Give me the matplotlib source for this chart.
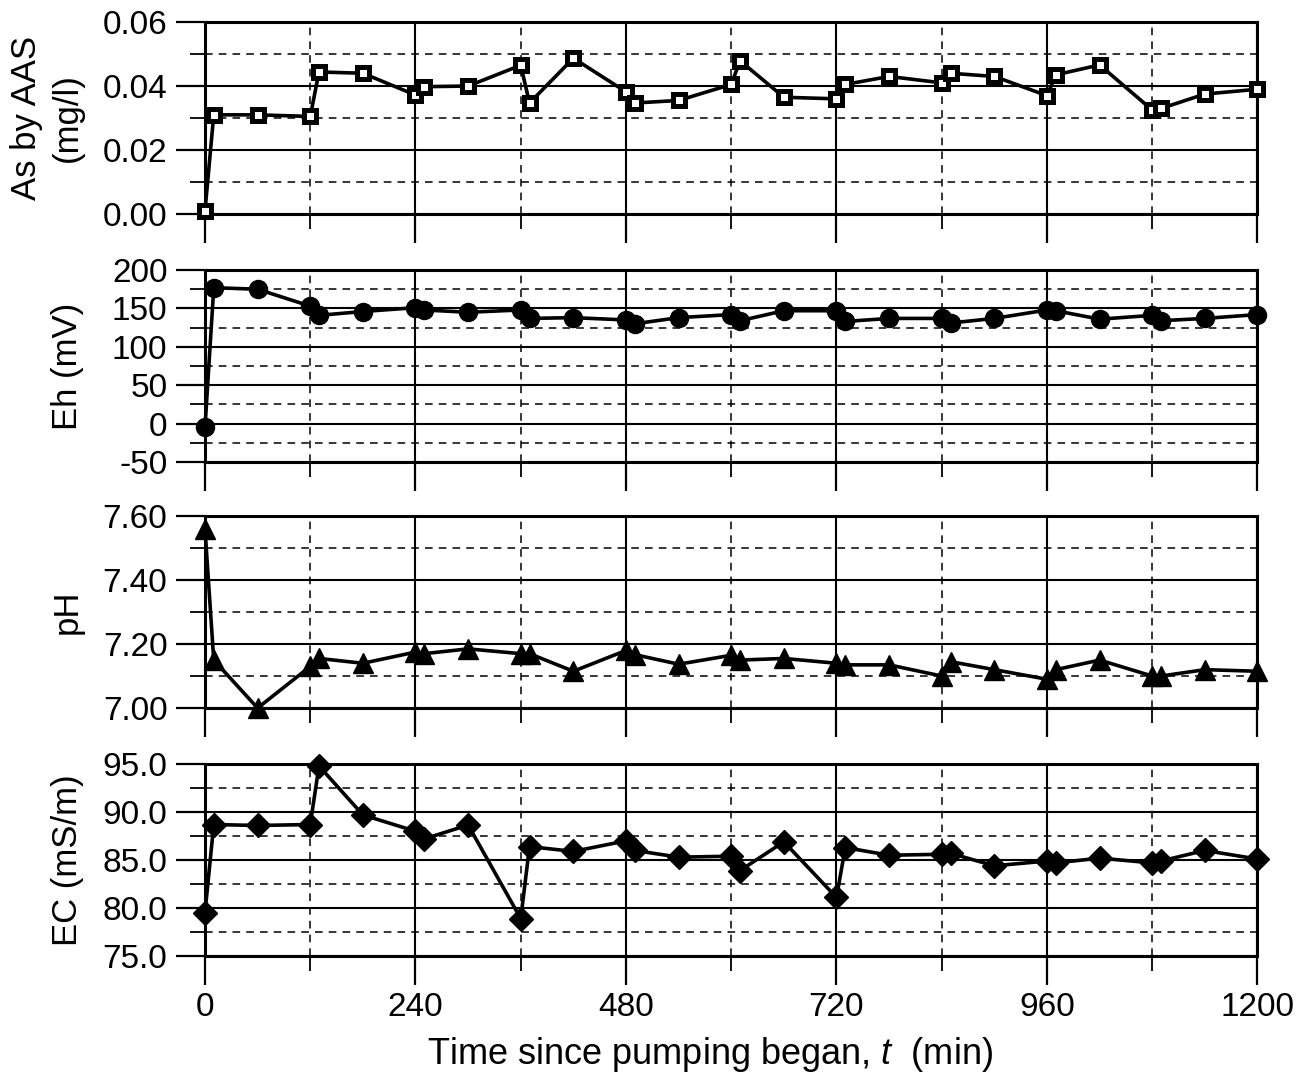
import matplotlib
matplotlib.use("Agg")
import matplotlib.pyplot as plt
import numpy as np
from matplotlib.ticker import MultipleLocator, FormatStrFormatter

plt.rcParams['font.family'] = ['Liberation Sans', 'DejaVu Sans']
plt.rcParams['mathtext.fontset'] = 'custom'
plt.rcParams['mathtext.it'] = 'Liberation Sans:italic'
plt.rcParams['mathtext.rm'] = 'Liberation Sans'

# sampling times (min)
t = [0, 10, 60, 120, 130, 180, 240, 250, 300, 360, 370, 420, 480, 490, 540,
     600, 610, 660, 720, 730, 780, 840, 850, 900, 960, 970, 1020, 1080, 1090, 1140, 1200]

as_aas = [0.001, 0.031, 0.031, 0.0305, 0.0444, 0.044, 0.0372, 0.0398, 0.040, 0.0465,
          0.0347, 0.0487, 0.0382, 0.0347, 0.0355,
          0.0405, 0.0479, 0.0365, 0.036, 0.0405, 0.043, 0.041, 0.044, 0.043, 0.037,
          0.0435, 0.0466, 0.0325, 0.033, 0.0375, 0.039]

eh = [-5, 177, 175, 153, 141, 146, 151, 148, 145, 148, 137, 138, 135, 130, 138,
      142, 134, 147, 147, 133, 137, 137, 131, 137, 148, 147, 136, 141, 134, 137, 142]

ph = [7.56, 7.15, 7.00, 7.13, 7.155, 7.14, 7.175, 7.17, 7.185, 7.17, 7.17, 7.115,
      7.18, 7.167, 7.137,
      7.165, 7.15, 7.155, 7.14, 7.135, 7.135, 7.10, 7.145, 7.12, 7.09, 7.12, 7.15,
      7.10, 7.10, 7.12, 7.115]

ec = [79.5, 88.7, 88.6, 88.7, 94.8, 89.7, 88.0, 87.2, 88.65, 78.9, 86.4, 85.9,
      87.0, 86.0, 85.3,
      85.4, 83.9, 86.9, 81.1, 86.3, 85.5, 85.6, 85.7, 84.4, 84.9, 84.7, 85.2,
      84.7, 84.9, 86.0, 85.1]

panels = [
    # values, ylabel, ylim, major, minor, fmt, marker kwargs
    (as_aas, "As by AAS\n(mg/l)", (0.0, 0.06), 0.02, 0.01, "%.2f",
     dict(marker='s', ms=8.5, mfc='white', mec='black', mew=3.6)),
    (eh, "Eh (mV)", (-50, 200), 50, 25, "%d",
     dict(marker='o', ms=13, mfc='black', mec='black')),
    (ph, "pH", (7.0, 7.6), 0.2, 0.1, "%.2f",
     dict(marker='^', ms=15, mfc='black', mec='black')),
    (ec, "EC (mS/m)", (75, 95), 5, 2.5, "%.1f",
     dict(marker='D', ms=12, mfc='black', mec='black')),
]

fig = plt.figure(figsize=(13.14, 10.81), dpi=100)
left, width = 0.156, 0.801
bottoms = [0.802, 0.5726, 0.345, 0.1156]
height = 0.1776

for i, (vals, lab, ylim, maj, mnr, fmt, mk) in enumerate(panels):
    ax = fig.add_axes([left, bottoms[i], width, height])
    ax.plot(t, vals, color='black', lw=2.6, clip_on=False, zorder=5, **mk)
    ax.set_xlim(0, 1200)
    ax.set_ylim(*ylim)

    ax.xaxis.set_major_locator(MultipleLocator(240))
    ax.xaxis.set_minor_locator(MultipleLocator(120))
    ax.yaxis.set_major_locator(MultipleLocator(maj))
    ax.yaxis.set_minor_locator(MultipleLocator(mnr))
    ax.yaxis.set_major_formatter(FormatStrFormatter(fmt))

    ax.grid(which='major', color='black', lw=1.5, ls='-')
    ax.grid(which='minor', color='black', lw=1.1, ls=(0, (5, 4)))
    ax.set_axisbelow(True)

    for s in ax.spines.values():
        s.set_linewidth(2.2)

    ax.tick_params(which='major', direction='out', length=21, width=1.6,
                   labelsize=24, pad=6)
    ax.tick_params(which='minor', direction='out', length=11, width=1.3)

    if i < 3:
        ax.tick_params(axis='x', labelbottom=False)
    else:
        ax.tick_params(axis='x', pad=5)
        ax.set_xlabel("Time since pumping began, $\\it{t}$  (min)", fontsize=26)
        ax.xaxis.set_label_coords(0.48, -0.41)

    ax.set_ylabel(lab, fontsize=25, linespacing=1.3)
    ax.yaxis.set_label_coords(-0.115, 0.5)

fig.savefig("out.png", dpi=100)
